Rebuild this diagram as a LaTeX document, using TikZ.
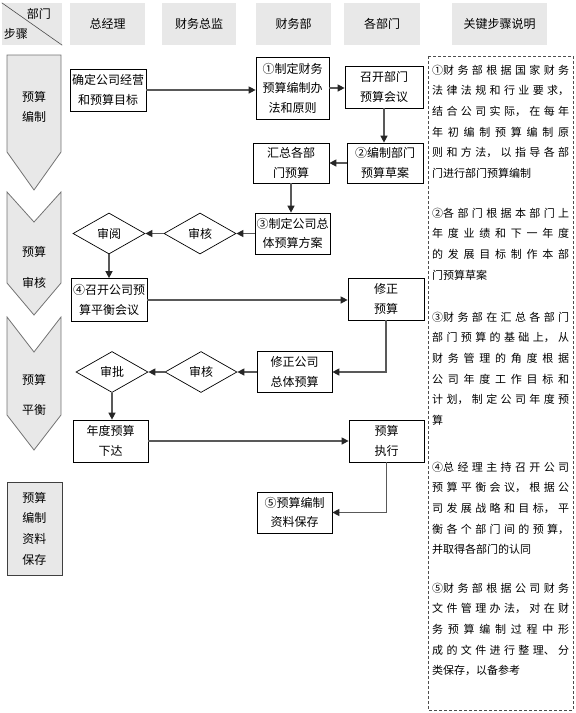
\documentclass[tikz,border=0pt]{standalone}
\usepackage{fontspec}
\setmainfont{Noto Sans CJK SC}
\usetikzlibrary{
  arrows.meta,
  shapes.geometric,
}
\XeTeXlinebreaklocale "zh"
\XeTeXlinebreakskip=0pt plus 6pt
\XeTeXlinebreakpenalty=10000
\hbadness=10000

\begin{document}
\begin{tikzpicture}[
  x=1pt, y=-1pt,
  head/.style={fill=black!9, minimum width=75pt, minimum height=42pt, inner sep=0pt, font=\fontsize{12}{14}\selectfont},
  proc/.style={draw, fill=white, line width=0.7pt, minimum width=76pt, minimum height=42pt, inner sep=0pt, align=center, font=\fontsize{12}{19.5}\selectfont},
  dec/.style={diamond, draw, fill=white, line width=0.7pt, minimum width=72pt, minimum height=41pt, inner sep=0pt, font=\fontsize{12}{14}\selectfont},
  stage/.style={draw=black!55, fill=black!9, line width=0.8pt},
  stagetext/.style={align=center, inner sep=0pt, font=\fontsize{12}{#1}\selectfont},
  flow/.style={draw=black!65, line width=1.3pt, -{Triangle[length=7pt, width=7pt, color=black!85]}},
  note/.style={text width=137pt, align=justify, inner sep=0pt, anchor=base west, font=\fontsize{11}{20.7}\selectfont}
]
\useasboundingbox (0,0) rectangle (576,713);

% header row
\node[head, minimum width=60pt] (corner) at (32,24) {};
\draw[black!70, line width=0.6pt] (corner.north west) -- (corner.south east);
\node[font=\fontsize{12}{14}\selectfont] (deptlbl) at (39,14) {部门};
\node[font=\fontsize{12}{14}\selectfont] (steplbl) at (16,34) {步骤};
\node[head] (gm) at (107.5,24) {总经理};
\node[head, minimum width=74pt] (cfo) at (199,24) {财务总监};
\node[head] (fin) at (293.5,24) {财务部};
\node[head, minimum width=76pt] (depts) at (382,24) {各部门};
\node[head, minimum width=95pt] (key) at (499.5,24) {关键步骤说明};

% stages
\draw[stage] (7,55) -- (61,55) -- (61,152) -- (34,190) -- (7,152) -- cycle;
\draw[stage] (7,192) -- (34,222) -- (61,192) -- (61,283) -- (34,315) -- (7,283) -- cycle;
\draw[stage] (7,317) -- (34,352) -- (61,317) -- (61,415) -- (34,450) -- (7,415) -- cycle;
\node[stagetext=20pt] (s1) at (34,107) {预算\\编制};
\node[stagetext=31pt] (s2) at (34,267.5) {预算\\审核};
\node[stagetext=30pt] (s3) at (34,395) {预算\\平衡};
\node[proc, draw=black!75, fill=black!9, minimum width=55pt, minimum height=93pt, font=\fontsize{12}{20.7}\selectfont] (s4) at (34.5,528.5) {预算\\编制\\资料\\保存};

% flow
\node[proc] (goal) at (108,90) {确定公司经营\\和预算目标};
\node[proc, minimum width=73pt, minimum height=62pt] (rule) at (292.5,88) {①制定财务\\预算编制办\\法和原则};
\node[proc, minimum width=78pt] (meet) at (384,87) {召开部门\\预算会议};
\node[proc, minimum height=40pt] (draft) at (385,163) {②编制部门\\预算草案};
\node[proc, minimum height=40pt] (sum) at (291,163) {汇总各部\\门预算};
\node[proc, minimum width=75pt, minimum height=41pt] (plan) at (292.5,233.5) {③制定公司总\\体预算方案};
\node[dec] (chk1) at (200,233.5) {审核};
\node[dec] (rev) at (109,233.5) {审阅};
\node[proc, minimum height=43pt] (bal) at (109,300) {④召开公司预\\算平衡会议};
\node[proc] (fix) at (386,299) {修正\\预算};
\node[proc, minimum width=75pt, minimum height=41pt] (fixplan) at (294.5,372) {修正公司\\总体预算};
\node[dec] (chk2) at (201,372) {审核};
\node[dec] (appr) at (112,372) {审批};
\node[proc, minimum width=75pt] (issue) at (110.5,441) {年度预算\\下达};
\node[proc, minimum width=75pt] (exec) at (386.5,441) {预算\\执行};
\node[proc, minimum width=75pt, minimum height=41pt] (save) at (294.5,512.5) {⑤预算编制\\资料保存};

\draw[flow] (goal.east) -- (goal.east -| rule.west);
\draw[flow] (rule.east) -- (rule.east -| meet.west);
\draw[flow] (meet.south) -- (meet.south |- draft.north);
\draw[flow] (draft) -- (sum);
\draw[flow] (sum.south) -- (sum.south |- plan.north);
\draw[flow] (plan) -- (chk1);
\draw[flow] (chk1) -- (rev);
\draw[flow] (rev) -- (rev |- bal.north);
\draw[flow] (bal.east) -- (bal.east -| fix.west);
\draw[flow] (fix.south) |- (fixplan.east);
\draw[flow] (fixplan) -- (chk2);
\draw[flow] (chk2) -- (appr);
\draw[flow] (appr.south) -- (appr.south |- issue.north);
\draw[flow] (issue) -- (exec);
\draw[flow] (exec.south) |- (save.east);

% key steps
\draw[black!70, line width=0.8pt, dash pattern=on 3pt off 2pt] (428,56) rectangle (573,710);
\node[note] (n1) at (432,74) {\noindent\mbox{①}\hangindent=14pt\hangafter=1 财务部根据国家财务\linebreak 法律法规和行业要求，\linebreak 结合公司实际，在每年\linebreak 年初编制预算编制原\linebreak 则和方法，以指导各部\linebreak 门进行部门预算编制};
\node[note] (n2) at (432,217) {\noindent\mbox{②}\hangindent=14pt\hangafter=1 各部门根据本部门上\linebreak 年度业绩和下一年度\linebreak 的发展目标制作本部\linebreak 门预算草案};
\node[note] (n3) at (432,321) {\noindent\mbox{③}\hangindent=14pt\hangafter=1 财务部在汇总各部门\linebreak 部门预算的基础上，从\linebreak 财务管理的角度根据\linebreak 公司年度工作目标和\linebreak 计划，制定公司年度预\linebreak 算};
\node[note] (n4) at (432,471) {\noindent\mbox{④}\hangindent=14pt\hangafter=1 总经理主持召开公司\linebreak 预算平衡会议，根据公\linebreak 司发展战略和目标，平\linebreak 衡各个部门间的预算，\linebreak 并取得各部门的认同};
\node[note] (n5) at (432,592) {\noindent\mbox{⑤}\hangindent=14pt\hangafter=1 财务部根据公司财务\linebreak 文件管理办法，对在财\linebreak 务预算编制过程中形\linebreak 成的文件进行整理、分\linebreak 类保存，以备参考};
\end{tikzpicture}
\end{document}
